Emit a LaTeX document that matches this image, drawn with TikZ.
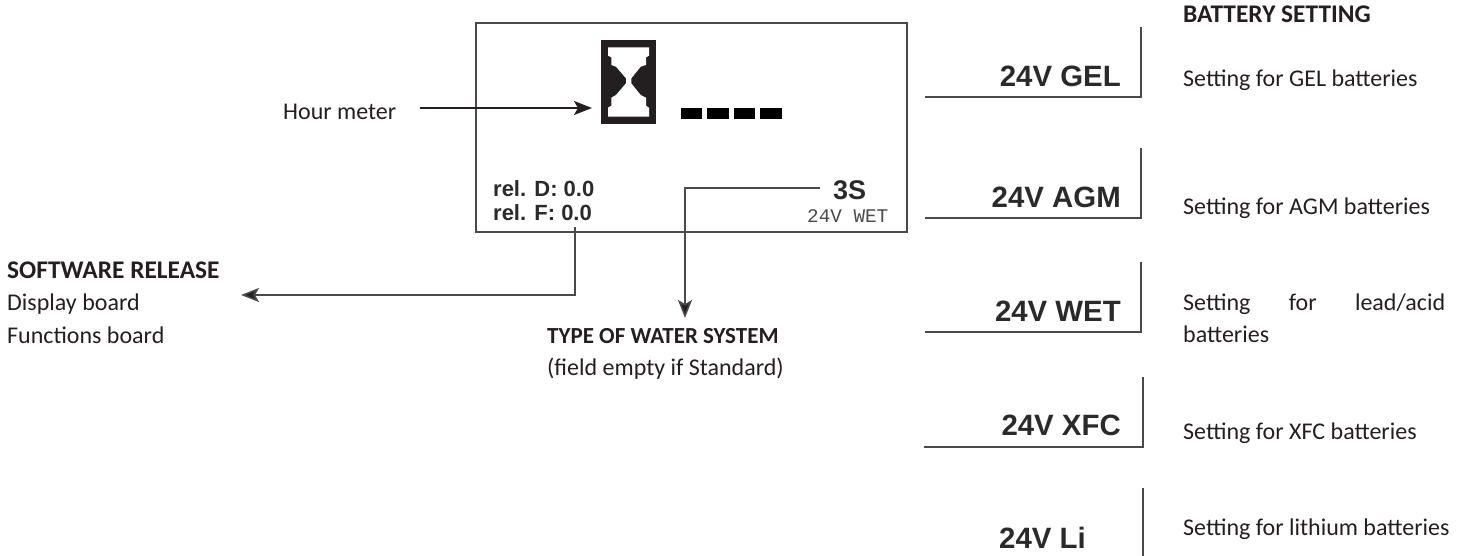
\documentclass[tikz,border=0pt]{standalone}
\usepackage{fontspec}
\setmainfont{Carlito}
\newfontfamily\lcdsans{Liberation Sans}
\newfontfamily\lcdmono{Liberation Mono}
\usetikzlibrary{arrows.meta}

\definecolor{inktxt}{HTML}{231F20}
\definecolor{lcdtxt}{HTML}{2A2A2A}
\definecolor{wire}{HTML}{4A4A4A}

\tikzstyle{txt} = [anchor=base west, inner sep=0pt, text=inktxt, font=\fontsize{24}{28}\selectfont]
\tikzstyle{head} = [txt, font=\fontsize{25.4}{30}\selectfont\bfseries]
\tikzstyle{lcd} = [anchor=base west, inner sep=0pt, text=lcdtxt, font=\fontsize{22}{26}\lcdsans\bfseries]
\tikzstyle{batt} = [anchor=base east, inner sep=0pt, text=lcdtxt, font=\fontsize{29.4}{34}\lcdsans\bfseries]
\tikzstyle{seg} = [rectangle, fill=black, inner sep=0pt, minimum width=21.5pt, minimum height=11pt]
\tikzstyle{corner} = [draw=wire, line width=1.5pt]
\tikzstyle{arrow} = [line width=1.6pt, draw=wire, -{Stealth[length=18pt,width=14pt,inset=4pt,fill=inktxt]}]

\begin{document}
\begin{tikzpicture}[x=1pt, y=-1pt]
  \useasboundingbox (0,0) rectangle (1460,556);

  \node (panel) [rectangle, draw=wire, line width=1.6pt, inner sep=0pt, minimum width=431pt, minimum height=209pt] at (691.5,127.5) {};
  \node (hourglass) [rectangle, fill=inktxt, inner sep=0pt, minimum width=55pt, minimum height=84pt] at (628.5,82) {};
  \fill [white] (608,47.3) -- (649,47.3) -- (649,55.7) -- (646,57.3) -- (646,65) -- (640.7,66.7) -- (631.3,78.3) -- (631.3,83.3) -- (640.7,95) -- (646,97.7) -- (646,105.7) -- (649,107.7) -- (649,116.7) -- (608,116.7) -- (608,107.7) -- (611.3,105.7) -- (611.3,97.7) -- (616,95) -- (626,83.3) -- (626,78.3) -- (616,66.7) -- (611.3,65) -- (611.3,57.3) -- (608,55.7) -- cycle;
  \node (seg-a) [seg] at (691.5,113.5) {};
  \node (seg-b) [seg, right of=seg-a, node distance=26.5pt] {};
  \node (seg-c) [seg, right of=seg-b, node distance=26.5pt] {};
  \node (seg-d) [seg, right of=seg-c, node distance=26.5pt] {};

  \node (reld) [lcd] at (493,197) {rel. D: 0.0};
  \node (relf) [lcd] at (493,221) {rel. F: 0.0};
  \node (type-flag) [lcd, font=\fontsize{27}{30}\lcdsans\bfseries] at (833,200) {3S};
  \node (type-batt) [anchor=base west, inner sep=0pt, text=wire, font=\fontsize{19.3}{22}\lcdmono] at (807,223) {24V WET};

  \node (hour-txt) [txt] at (283,120) {Hour meter};
  \node (soft-head) [head] at (7,279) {SOFTWARE RELEASE};
  \node (soft-disp) [txt] at (7,311) {Display board};
  \node (soft-func) [txt] at (7,343) {Functions board};
  \node (water-head) [head, font=\fontsize{23}{28}\selectfont\bfseries] at (547,343) {TYPE OF WATER SYSTEM};
  \node (water-note) [txt] at (547,375) {(field empty if Standard)};

  \node (batt-head) [head] at (1183,23) {BATTERY SETTING};
  \node (gel-lbl) [batt] at (1121,87) {24V GEL};
  \node (agm-lbl) [batt] at (1121,208) {24V AGM};
  \node (wet-lbl) [batt] at (1121,321) {24V WET};
  \node (xfc-lbl) [batt] at (1121,435) {24V XFC};
  \node (li-lbl) [batt] at (1086,548) {24V Li};
  \node (gel-txt) [txt] at (1183,87) {Setting for GEL batteries};
  \node (agm-txt) [txt] at (1183,215) {Setting for AGM batteries};
  \node (wet-txt) [txt, anchor=north west, text width=262pt, align=justify, font=\fontsize{24}{32}\selectfont] at (1183,294) {Setting for lead/acid \mbox{batteries}};
  \node (xfc-txt) [txt] at (1183,439) {Setting for XFC batteries};
  \node (li-txt) [txt] at (1183,535) {Setting for lithium batteries};

  \coordinate (hour-tip) at (592,108);
  \coordinate (rel-bend) at (575,295);
  \coordinate (rel-tip) at (241,295);
  \coordinate (water-bend) at (685,188);
  \coordinate (water-tip) at (685,318);
  \coordinate (gel-l) at (925,97);
  \coordinate (gel-t) at (1141,27);
  \coordinate (agm-l) at (925,218);
  \coordinate (agm-t) at (1141,148);
  \coordinate (wet-l) at (925,332);
  \coordinate (wet-t) at (1141,262);
  \coordinate (xfc-l) at (924,447);
  \coordinate (xfc-t) at (1143,377);
  \coordinate (li-t) at (1143,488);
  \coordinate (li-b) at (1143,556);

  \draw [arrow, line width=2.2pt, draw=inktxt, shorten <=24pt] (hour-txt.east |- hour-tip) -- (hour-tip);
  \draw [arrow, shorten <=6pt] (rel-bend |- relf.south) -- (rel-bend) -- (rel-tip);
  \draw [arrow, shorten <=13pt] (type-flag.west |- water-bend) -- (water-bend) -- (water-tip);
  \draw [corner] (gel-l) -| (gel-t);
  \draw [corner] (agm-l) -| (agm-t);
  \draw [corner] (wet-l) -| (wet-t);
  \draw [corner, line width=2.2pt] (xfc-l) -| (xfc-t);
  \draw [corner, line width=2.2pt] (li-t) -- (li-b);
\end{tikzpicture}
\end{document}
